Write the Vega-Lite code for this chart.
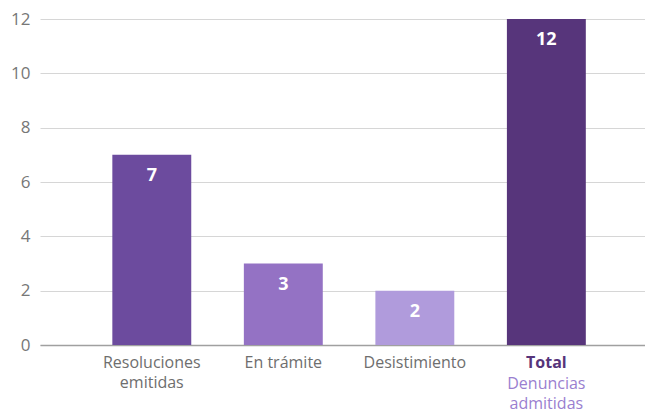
{
  "$schema": "https://vega.github.io/schema/vega-lite/v6.json",
  "autosize": {"type": "none"},
  "width": 605,
  "height": 326,
  "padding": {"left": 40, "top": 19, "right": 0, "bottom": 65},
  "background": "white",
  "config": {
    "view": {"stroke": null},
    "font": "Open Sans"
  },
  "data": {
    "values": [
      {"cat": "Resoluciones emitidas", "value": 7, "sub": null},
      {"cat": "En trámite", "value": 3, "sub": null},
      {"cat": "Desistimiento", "value": 2, "sub": null},
      {"cat": "Total", "value": 12, "sub": "Denuncias admitidas"}
    ]
  },
  "encoding": {
    "x": {
      "field": "cat",
      "type": "nominal",
      "sort": null,
      "scale": {"paddingInner": 0.4, "paddingOuter": 0.5, "align": 0.55},
      "axis": {
        "title": null,
        "labelAngle": 0,
        "ticks": false,
        "labelPadding": 22,
        "labelBaseline": "alphabetic",
        "labelFontSize": 16,
        "labelLineHeight": 20,
        "labelColor": {"condition": {"test": "datum.value == 'Total'", "value": "#56347a"}, "value": "#6e6e6e"},
        "labelFontWeight": {"condition": {"test": "datum.value == 'Total'", "value": "bold"}, "value": "normal"},
        "labelExpr": "datum.value == 'Resoluciones emitidas' ? ['Resoluciones', 'emitidas'] : datum.value",
        "domainColor": "#a0a0a0",
        "domainWidth": 1.5,
        "grid": false
      }
    }
  },
  "layer": [
    {
      "mark": {"type": "bar"},
      "encoding": {
        "y": {
          "field": "value",
          "type": "quantitative",
          "scale": {"domain": [0, 12]},
          "axis": {
            "title": null,
            "values": [0, 2, 4, 6, 8, 10, 12],
            "ticks": false,
            "domain": false,
            "labelPadding": 10,
            "labelFontSize": 17,
            "labelColor": "#777777",
            "gridColor": "#d6d6d6",
            "gridWidth": 1
          }
        },
        "color": {
          "field": "cat",
          "type": "nominal",
          "scale": {
            "domain": ["Resoluciones emitidas", "En trámite", "Desistimiento", "Total"],
            "range": ["#6c4b9e", "#9472c4", "#b09bdc", "#57357b"]
          },
          "legend": null
        }
      }
    },
    {
      "mark": {"type": "text", "color": "white", "fontWeight": "bold", "fontSize": 18, "baseline": "alphabetic", "dy": 26},
      "encoding": {
        "y": {"field": "value", "type": "quantitative"},
        "text": {"field": "value", "type": "quantitative"}
      }
    },
    {
      "transform": [{"filter": "isValid(datum.sub)"}],
      "mark": {"type": "text", "color": "#9a7fd0", "fontSize": 16, "baseline": "alphabetic", "dy": 44, "lineBreak": " ", "lineHeight": 20},
      "encoding": {
        "y": {"datum": 0, "type": "quantitative"},
        "text": {"field": "sub"}
      }
    }
  ]
}
